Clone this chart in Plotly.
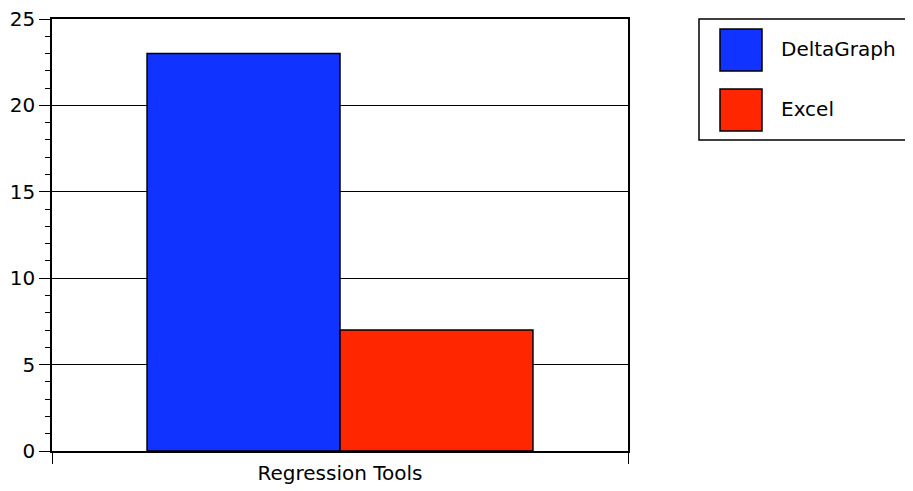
import plotly.graph_objects as go

categories = ["Regression Tools"]
series_names = ["DeltaGraph", "Excel"]
series_values = [[23], [7]]
series_colors = ["#1033FF", "#FF2600"]
y_tickvals = [0, 5, 10, 15, 20, 25]

OFF = 8  # default page body margin
W, H = 913 - OFF, 491 - OFF
# plot area in page pixels: left 52, right 628, top 19, bottom 451
ML, MT = 52 - OFF, 19 - OFF
MR = W - (628 - OFF)
MB = H - (451 - OFF)
PW, PH = W - ML - MR, H - MT - MB

def px_x(px):
    return (px - OFF - ML) / PW

def px_y(py):
    return (H - MB - (py - OFF)) / PH

FONT = "DejaVu Sans, Liberation Sans, sans-serif"
FS = 20

fig = go.Figure()
for name, vals, col in zip(series_names, series_values, series_colors):
    fig.add_trace(go.Bar(
        x=[0], y=vals, name=name,
        marker=dict(color=col, line=dict(color="black", width=1.5)),
        showlegend=False,
    ))

# invisible trace on second x-axis just for the category label
fig.add_trace(go.Scatter(x=categories, y=[0], xaxis="x2", mode="markers",
                         marker=dict(opacity=0), showlegend=False, hoverinfo="skip"))

shapes = []
annotations = []
# legend box
shapes.append(dict(type="rect", xref="paper", yref="paper",
                   x0=px_x(699), x1=px_x(913), y0=px_y(140), y1=px_y(19),
                   line=dict(color="black", width=1.5), fillcolor="white"))
for i, (name, col) in enumerate(zip(series_names, series_colors)):
    top = 29 + 60 * i
    shapes.append(dict(type="rect", xref="paper", yref="paper",
                       x0=px_x(720), x1=px_x(762), y0=px_y(top + 42), y1=px_y(top),
                       line=dict(color="black", width=1.5), fillcolor=col))
    annotations.append(dict(xref="paper", yref="paper", x=px_x(779), y=px_y(top + 20),
                            text=name, showarrow=False, xanchor="left", yanchor="middle",
                            font=dict(family=FONT, size=FS, color="black")))

fig.update_layout(
    width=W, height=H,
    margin=dict(l=ML, r=MR, t=MT, b=MB, pad=0, autoexpand=False),
    paper_bgcolor="white", plot_bgcolor="white",
    barmode="group", bargap=0.33, bargroupgap=0,
    font=dict(family=FONT, size=FS, color="black"),
    xaxis=dict(range=[-0.5, 0.5], tickvals=[-0.5, 0.5], ticktext=["", ""],
               ticks="outside", ticklen=11, tickcolor="black", tickwidth=1,
               showline=True, linecolor="black", linewidth=1.5, mirror=True,
               showgrid=False, zeroline=False, fixedrange=True, automargin=False),
    xaxis2=dict(overlaying="x", side="bottom", type="category",
                range=[-0.5, 0.5], showline=False, showgrid=False,
                ticks="outside", ticklen=4, tickcolor="rgba(0,0,0,0)",
                tickfont=dict(family=FONT, size=FS, color="black"), zeroline=False,
                automargin=False, ticklabeloverflow="allow"),
    yaxis=dict(range=[0, 25], tickvals=y_tickvals,
               ticks="outside", ticklen=11, tickcolor="black", tickwidth=1,
               showline=True, linecolor="black", linewidth=1.5, mirror=True,
               showgrid=True, gridcolor="black", gridwidth=1, zeroline=False,
               automargin=False, ticklabeloverflow="allow",
               tickfont=dict(family=FONT, size=FS, color="black"),
               minor=dict(dtick=1, ticks="outside", ticklen=5, tickcolor="black",
                          tickwidth=1, showgrid=False)),
    shapes=shapes, annotations=annotations,
    showlegend=False,
)

fig.write_html("out.html")
